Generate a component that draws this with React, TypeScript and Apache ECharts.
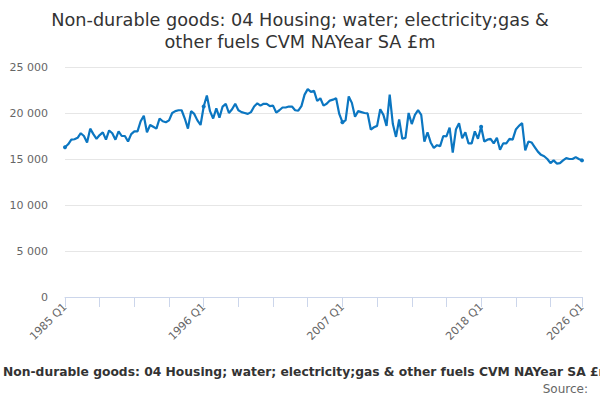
import { useEffect, useRef } from "react";
import * as echarts from "echarts";

const FONT = "DejaVu Sans, Verdana, sans-serif";
const LINE_COLOR = "#0b76c1";

const FIRST_YEAR = 1985;
const LAST_YEAR = 2026;

// quarterly values, 1985 Q1 .. 2026 Q1 (£m)
const values1985to1995 = [
  16270, 16600, 17100, 17150, 17300, 17800, 17500, 16800, 18300, 17700,
  17200, 17600, 17900, 17100, 18100, 17800, 17100, 18000, 17500, 17500,
  16900, 17700, 18000, 18000, 19100, 19700, 17900, 18700, 18500, 18300,
  19400, 19100, 19000, 19200, 20000, 20200, 20300, 20300, 19400, 18300,
  20200,
];
const values1995to2005 = [
  19900, 19200, 18700, 20700, 21900, 20200, 19400, 20500, 19500,
  20700, 21000, 20000, 20400, 21000, 20300, 20100, 20000, 19900, 20100,
  20700, 21050, 20800, 21000, 21000, 20750, 20800, 20050, 20300, 20600,
  20600, 20700, 20700, 20300, 20250, 20750, 22000, 22600, 22300, 22400,
  21300, 21600, 20800, 21000,
];
const values2006to2016 = [
  21350, 21450, 21600, 19900, 19000, 19200,
  21800, 21100, 19600, 20200, 20100, 20000, 19950, 18200, 18450, 18600,
  20400, 19800, 18600, 22000, 18800, 17400, 19300, 17200, 17300, 20000,
  18800, 19800, 20300, 19800, 16900, 17900, 16800, 16200, 16500, 16400,
  17500, 17450, 18400, 15700, 18200, 18900,
];
const values2016to2026 = [
  17250, 17900, 16700, 16700,
  18000, 17200, 18500, 16900, 17100, 17200, 16700, 17300, 16000, 16700,
  16700, 17200, 17100, 18200, 18600, 18900, 15950, 16900, 16800, 16300,
  15800, 15450, 15300, 15000, 14550, 14850, 14500, 14550, 14850, 15100,
  15000, 15000, 15200, 15000, 14850,
];
const seriesValues = [...values1985to1995, ...values1995to2005, ...values2006to2016, ...values2016to2026];

const quarters: string[] = [];
for (let year = FIRST_YEAR; year <= LAST_YEAR; year++) {
  for (let q = 1; q <= 4; q++) {
    if (year === LAST_YEAR && q > 1) break;
    quarters.push(`${year} Q${q}`);
  }
}
const lastIndex = quarters.length - 1;

const yTicks = [0, 5000, 10000, 15000, 20000, 25000];
const titleLines = ["Non-durable goods: 04 Housing; water; electricity;gas &", "other fuels CVM NAYear SA £m"];
const seriesName = "Non-durable goods: 04 Housing; water; electricity;gas & other fuels CVM NAYear SA £m";

export default function App() {
  const chartRef = useRef<HTMLDivElement | null>(null);

  useEffect(() => {
    if (!chartRef.current) {
      return;
    }
    const chart = echarts.init(chartRef.current, undefined, { renderer: "svg" });
    chart.setOption({
      animation: false,
      backgroundColor: "#ffffff",
      textStyle: { fontFamily: FONT },
      grid: { left: 65, right: 18, top: 67, bottom: 103 },
      xAxis: {
        type: "category",
        data: quarters,
        boundaryGap: false,
        axisLine: { lineStyle: { color: "#ccd6eb", width: 1 } },
        axisTick: {
          length: 10,
          lineStyle: { color: "#ccd6eb" },
          interval: (index: number) => index % 11 === 0 || index === lastIndex,
        },
        axisLabel: {
          rotate: 45,
          margin: 8,
          color: "#666666",
          fontSize: 11,
          fontFamily: FONT,
          interval: (index: number) => index % 44 === 0 || index === lastIndex,
        },
        splitLine: { show: false },
      },
      yAxis: {
        type: "value",
        min: yTicks[0],
        max: yTicks[yTicks.length - 1],
        interval: 5000,
        axisLine: { show: false },
        axisTick: { show: false },
        axisLabel: {
          color: "#666666",
          fontSize: 11,
          fontFamily: FONT,
          margin: 17,
          formatter: (v: number) => (v >= 1000 ? v.toLocaleString("en-US").replace(/,/g, " ") : String(v)),
        },
        splitLine: { lineStyle: { color: "#e6e6e6" } },
      },
      series: [
        {
          name: seriesName,
          type: "line",
          data: seriesValues,
          showSymbol: true,
          symbol: "circle",
          symbolSize: 4,
          itemStyle: { color: LINE_COLOR },
          lineStyle: { color: LINE_COLOR, width: 2.2 },
        },
      ],
      graphic: [
        ...titleLines.map((line, i) => ({
          type: "text",
          x: 300,
          y: 20 + i * 22,
          style: {
            text: line,
            fill: "#333333",
            font: `17.7px ${FONT}`,
            align: "center",
            verticalAlign: "middle",
          },
        })),
        {
          type: "text",
          x: 3,
          y: 372,
          style: {
            text: seriesName,
            fill: "#333333",
            font: `bold 12.3px ${FONT}`,
            verticalAlign: "middle",
          },
        },
        {
          type: "text",
          x: 588,
          y: 389,
          style: {
            text: "Source:",
            fill: "#666666",
            font: `12px ${FONT}`,
            align: "right",
            verticalAlign: "middle",
          },
        },
      ],
    });
    return () => chart.dispose();
  }, []);

  return <div ref={chartRef} style={{ position: "absolute", left: 0, top: 0, width: 600, height: 400 }} />;
}
